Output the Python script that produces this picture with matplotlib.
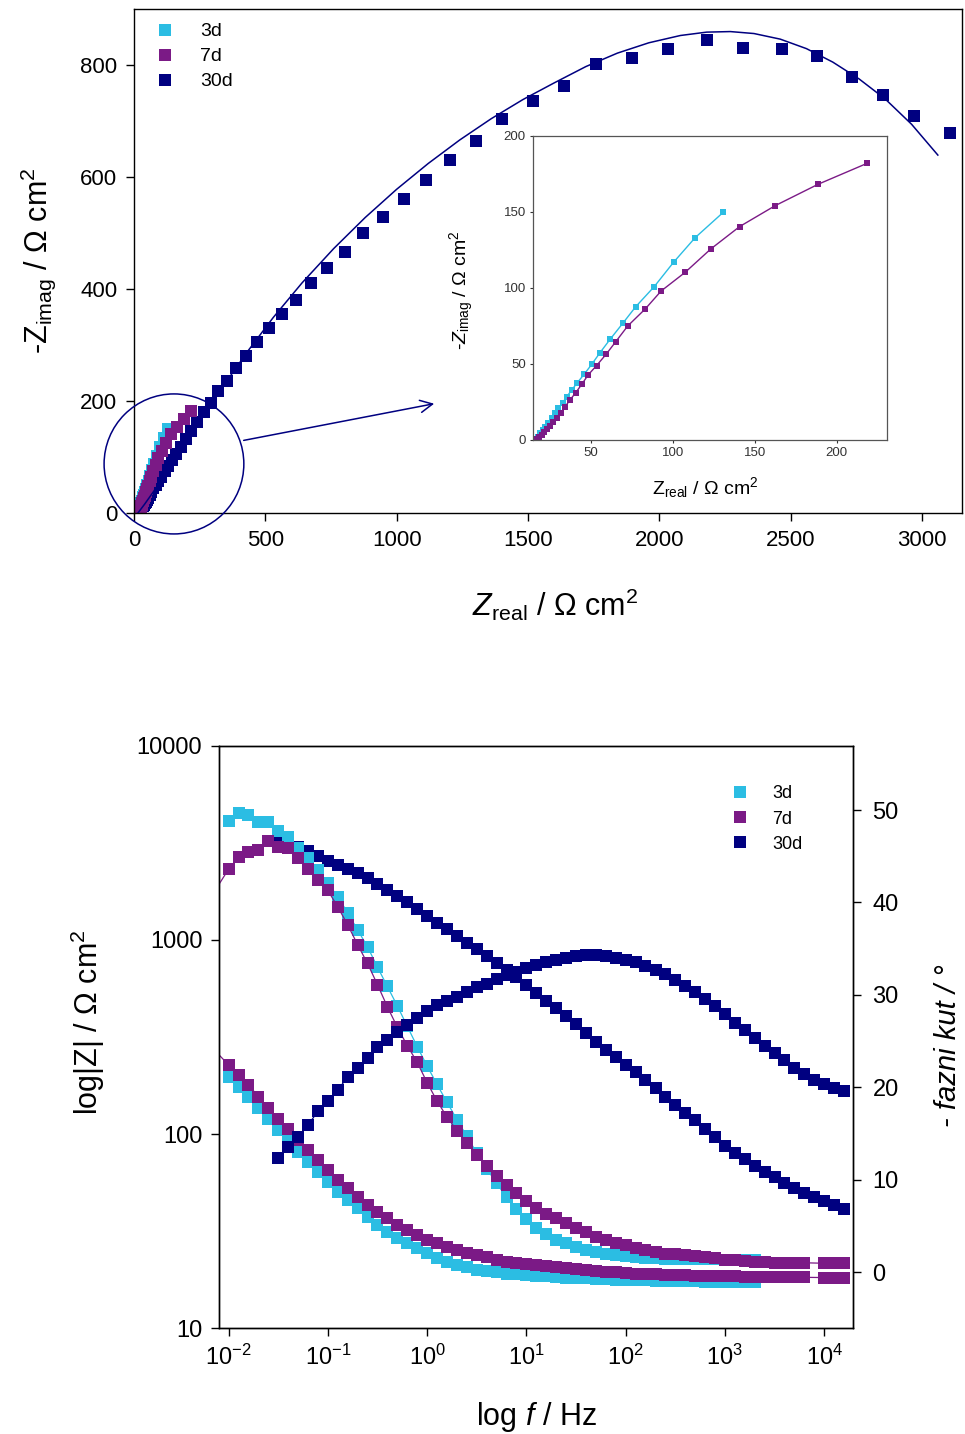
import numpy as np
import matplotlib
matplotlib.use('Agg')
import matplotlib.pyplot as plt
from matplotlib.patches import Ellipse
from matplotlib.lines import Line2D
from matplotlib.ticker import NullLocator, FixedLocator, FixedFormatter

plt.rcParams['font.family'] = ['Liberation Sans', 'DejaVu Sans']
plt.rcParams['mathtext.fontset'] = 'custom'
plt.rcParams['mathtext.rm'] = 'Liberation Sans'
plt.rcParams['mathtext.it'] = 'Liberation Sans:italic'
plt.rcParams['mathtext.bf'] = 'Liberation Sans:bold'

c3 = '#2bbde3'
c7 = '#7b1a86'
c30 = '#000080'
labels = ['3d', '7d', '30d']

# ---- Nyquist data (Zreal, -Zimag), Ohm cm2 ----
zr3 = [16.3, 17.4, 18.8, 20.4, 22.1, 23.9, 25.9, 28.0, 30.0, 32.7, 35.1, 38.2,
       41.6, 45.9, 50.4, 55.5, 61.6, 69.4, 77.3, 88.6, 100.4, 113.6, 130.8]
zi3 = [0.4, 2.2, 4.4, 6.6, 8.8, 11.4, 14.3, 17.5, 20.8, 24.6, 28.5, 32.9,
       37.7, 43.4, 49.8, 57.5, 66.2, 76.8, 87.7, 100.9, 116.9, 133.1, 149.8]

zr7 = [17.2, 18.4, 19.8, 21.4, 23.3, 24.9, 26.9, 29.0, 31.4, 34.1, 37.1, 40.6, 44.3,
       48.2, 53.3, 59.2, 65.1, 72.4, 83.1, 92.8, 107.5, 123.2, 140.8, 162.6, 188.7, 218.7]
zi7 = [0.7, 1.8, 3.3, 5.0, 7.0, 9.2, 11.6, 14.7, 18.0, 21.9, 26.3, 31.1, 36.6,
       42.8, 48.9, 56.4, 64.7, 75.0, 86.2, 98.0, 110.3, 125.7, 140.4, 154.2, 168.2, 182.0]

zr30 = [36, 38, 41, 44, 48, 53, 59, 66, 74, 83, 93, 104, 116, 130, 145, 161, 178, 197,
        217, 240, 266, 293, 321, 352, 388, 426, 468, 513, 563, 617, 673, 736, 802, 873,
        949, 1027, 1113, 1202, 1301, 1402, 1518, 1635, 1758, 1895, 2031, 2180, 2319,
        2465, 2601, 2732, 2852, 2969, 3106]
zi30 = [13, 15, 17, 20, 23, 27, 32, 38, 44, 50, 57, 65, 74, 84, 95, 106, 118, 132,
        147, 163, 180, 197, 217, 236, 258, 280, 305, 330, 356, 381, 410, 438, 466, 499,
        528, 560, 595, 630, 664, 704, 735, 763, 802, 812, 828, 845, 831,
        829, 816, 778, 746, 709, 678]

# fitted curve for 30d
fit_zr = [15, 40, 80, 130, 190, 260, 340, 430, 530, 640, 760, 880, 1000, 1120, 1240,
          1360, 1480, 1600, 1720, 1840, 1960, 2080, 2180, 2270, 2360, 2460, 2560, 2660,
          2760, 2860, 2960, 3060]
fit_zi = [0, 15.5, 42, 77, 120, 170.5, 226.5, 287, 349, 411, 472, 527.5, 578, 624, 666,
          704, 738, 768, 797, 821, 839.5, 852.5, 858.5, 859.5, 856, 846, 829, 805,
          775, 739, 694, 639]

# ---- Bode data ----
freq = [0.00794, 0.01, 0.0126, 0.0158, 0.02, 0.0251, 0.0316, 0.0398, 0.0501, 0.0631,
        0.0794, 0.1, 0.126, 0.158, 0.2, 0.251, 0.316, 0.398, 0.501, 0.631,
        0.794, 1.0, 1.26, 1.58, 2.0, 2.51, 3.16, 3.98, 5.01, 6.31,
        7.94, 10.0, 12.6, 15.8, 20.0, 25.1, 31.6, 39.8, 50.1, 63.1,
        79.4, 100, 126, 158, 200, 251, 316, 398, 501, 631,
        794, 1000, 1259, 1585, 1995, 2512, 3162, 3981, 5012, 6310,
        7943, 10000, 12589, 15849]

N = None
modz3 = [N, 197, 175, 155, 136, 119, 105, 92, 81, 72,
         64, 56.8, 50.5, 45.7, 41.4, 37.5, 34.0, 31.3, 29.0, 27.4,
         25.8, 24.3, 22.9, 22.0, 21.1, 20.6, 20.0, 19.7, 19.4, 19.1,
         18.9, 18.75, 18.6, 18.45, 18.3, 18.2, 18.1, 18.0, 17.9, 17.8,
         17.75, 17.7, 17.65, 17.6, 17.55, 17.5, 17.45, 17.4, 17.4, 17.35,
         17.35, 17.3, 17.3, 17.3, 17.3, N, N, N, N, N,
         N, N, N, N]
phase3 = [N, 48.8, 49.7, 49.5, 48.7, 48.7, 47.7, 47.1, 45.9, 44.8,
          43.5, 42.1, 40.6, 38.9, 37.0, 35.2, 33.0, 30.9, 28.8, 26.6,
          24.4, 22.3, 20.3, 18.4, 16.5, 14.7, 12.9, 11.2, 9.6, 8.1,
          6.8, 5.7, 4.8, 4.1, 3.5, 3.1, 2.7, 2.4, 2.2, 2.0,
          1.8, 1.7, 1.6, 1.55, 1.5, 1.45, 1.45, 1.4, 1.4, 1.4,
          1.4, 1.35, 1.35, 1.35, 1.35, N, N, N, N, N,
          N, N, N, N]

modz7 = [257, 227, 201, 179, 156, 136, 120, 106, 93, 83,
         73.5, 65.2, 57.9, 52.5, 47.5, 43.1, 39.7, 36.7, 34.0, 32.0,
         30.1, 28.4, 27.4, 26.2, 25.2, 24.4, 23.7, 23.1, 22.5, 22.0,
         21.7, 21.4, 21.1, 20.8, 20.6, 20.3, 20.1, 19.9, 19.7, 19.5,
         19.4, 19.2, 19.1, 19.0, 18.9, 18.85, 18.8, 18.7, 18.65, 18.6,
         18.55, 18.5, 18.45, 18.4, 18.4, 18.35, 18.3, 18.3, 18.25, 18.25,
         N, 18.2, 18.2, 18.2]
phase7 = [41.9, 43.6, 44.9, 45.5, 45.7, 46.6, 46.0, 45.9, 44.8, 43.6,
          42.4, 41.3, 39.5, 37.6, 35.4, 33.4, 31.1, 28.7, 26.5, 24.5,
          22.7, 20.5, 18.5, 16.8, 15.3, 14.0, 12.7, 11.5, 10.4, 9.4,
          8.5, 7.7, 6.9, 6.3, 5.8, 5.3, 4.8, 4.3, 3.8, 3.5,
          3.1, 2.9, 2.6, 2.4, 2.2, 2.0, 1.9, 1.8, 1.7, 1.6,
          1.5, 1.35, 1.25, 1.15, 1.1, 1.05, 1.0, 1.0, 1.0, 1.0,
          N, 0.95, 0.95, 0.95]

modz30 = [N, N, N, N, N, N, 3270, 3162, 3013, 2877,
          2710, 2553, 2449, 2323, 2203, 2089, 1945, 1820, 1694, 1570,
          1445, 1330, 1230, 1140, 1050, 966, 899, 828, 760, 700,
          644, 586, 533, 485, 444, 404, 369, 332, 298, 271,
          249, 227, 209, 190, 172, 155, 141, 129, 118, 106,
          96, 86.7, 79.8, 74.0, 68.4, 63.7, 59.7, 55.8, 52.7, 49.7,
          47.1, 44.9, 43.1, 41.3]
phase30 = [N, N, N, N, N, N, 12.3, 13.5, 14.6, 15.9,
           17.4, 18.5, 19.7, 21.1, 22.1, 23.2, 24.3, 25.1, 26.0, 26.7,
           27.5, 28.2, 28.9, 29.3, 29.8, 30.3, 30.8, 31.2, 31.7, 32.1,
           32.5, 32.9, 33.2, 33.6, 33.8, 34.0, 34.2, 34.3, 34.3, 34.2,
           34.0, 33.8, 33.5, 33.1, 32.7, 32.2, 31.6, 31.0, 30.3, 29.6,
           28.8, 27.9, 27.0, 26.2, 25.3, 24.5, 23.7, 22.9, 22.1, 21.4,
           20.8, 20.3, 19.9, 19.6]

fig = plt.figure(figsize=(9.65, 14.34), dpi=100)

# ================= Nyquist =================
ax1 = fig.add_axes([0.1389, 0.6423, 0.8580, 0.3515])
ax1.plot(fit_zr, fit_zi, color=c30, lw=1.1, zorder=3)
ax1.plot(zr30, zi30, 's', color=c30, ms=9, mew=0, zorder=2)
ax1.plot(zr3, zi3, 's', color=c3, ms=9, mew=0, zorder=2)
ax1.plot(zr7, zi7, 's', color=c7, ms=9, mew=0, zorder=2)
ax1.set_xlim(0, 3152)
ax1.set_ylim(0, 900)
ax1.set_xticks([0, 500, 1000, 1500, 2000, 2500, 3000])
ax1.set_yticks([0, 200, 400, 600, 800])
ax1.tick_params(direction='out', length=6, width=1, labelsize=16, pad=6)
for s in ax1.spines.values():
    s.set_linewidth(1)
ax1.set_xlabel('$Z_{\\mathrm{real}}$ / Ω cm$^{2}$', fontsize=22, va='center')
ax1.xaxis.set_label_coords(0.508, -0.183)
ax1.set_ylabel('-Z$_{\\mathrm{imag}}$ / Ω cm$^{2}$', fontsize=22, va='center')
ax1.yaxis.set_label_coords(-0.116, 0.5)

ell = Ellipse((152, 87.5), width=532, height=250, fill=False, edgecolor=c30,
              lw=1.1, clip_on=False, zorder=4)
ax1.add_patch(ell)
ax1.annotate('', xy=(1153, 196), xytext=(407, 128.6),
             arrowprops=dict(arrowstyle='->', color=c30, lw=1.1, mutation_scale=22))

h1 = [Line2D([], [], ls='', marker='s', ms=8, mew=0, color=c) for c in (c3, c7, c30)]
ax1.legend(h1, labels, loc='upper left', bbox_to_anchor=(0.005, 1.007), frameon=False,
           fontsize=14, handlelength=1.0, handletextpad=1.3, labelspacing=0.38)

# inset
axi = fig.add_axes([0.552, 0.6932, 0.3668, 0.2120])
axi.plot(zr3, zi3, '-s', color=c3, ms=4.5, mew=0, lw=1)
axi.plot(zr7, zi7, '-s', color=c7, ms=4.5, mew=0, lw=1)
axi.set_xlim(14.3, 230.6)
axi.set_ylim(0, 200)
axi.set_xticks([50, 100, 150, 200])
axi.set_yticks([0, 50, 100, 150, 200])
axi.tick_params(direction='out', length=2, width=0.8, labelsize=9.5, pad=3,
                colors='#333333')
for s in axi.spines.values():
    s.set_linewidth(0.9)
    s.set_color('#555555')
axi.set_xlabel('Z$_{\\mathrm{real}}$ / Ω cm$^{2}$', fontsize=14, va='center')
axi.xaxis.set_label_coords(0.487, -0.158)
axi.set_ylabel('-$Z_{\\mathrm{imag}}$ / Ω cm$^{2}$', fontsize=14, va='center')
axi.yaxis.set_label_coords(-0.2, 0.493)

# ================= Bode =================
f = np.array(freq, dtype=float)


def bode(ax, vals, color, skip_first=False):
    v = np.array(vals, dtype=float)
    m = ~np.isnan(v)
    ax.plot(f[m], v[m], '-', color=color, lw=0.9)
    start = 1 if skip_first else 0
    ax.plot(f[m][start:], v[m][start:], 's', color=color, ms=8.3, mew=0)


ax2 = fig.add_axes([0.2269, 0.0739, 0.6570, 0.4059])
ax2.set_xscale('log')
ax2.set_yscale('log')
bode(ax2, modz30, c30)
bode(ax2, modz3, c3)
bode(ax2, modz7, c7, skip_first=True)
ax2.set_xlim(10 ** -2.097, 10 ** 4.29)
ax2.set_ylim(10, 10000)
ax2.yaxis.set_major_locator(FixedLocator([10, 100, 1000, 10000]))
ax2.yaxis.set_major_formatter(FixedFormatter(['10', '100', '1000', '10000']))
ax2.yaxis.set_minor_locator(NullLocator())
ax2.xaxis.set_major_locator(FixedLocator([1e-2, 1e-1, 1, 10, 100, 1000, 1e4]))
ax2.xaxis.set_major_formatter(FixedFormatter(
    ['$10^{-2}$', '$10^{-1}$', '$10^{0}$', '$10^{1}$', '$10^{2}$', '$10^{3}$', '$10^{4}$']))
ax2.xaxis.set_minor_locator(NullLocator())
ax2.tick_params(direction='out', length=6, width=1, labelsize=17, pad=6)

ax2b = ax2.twinx()
bode(ax2b, phase3, c3)
bode(ax2b, phase7, c7, skip_first=True)
bode(ax2b, phase30, c30)
ax2b.set_ylim(-6.06, 56.93)
ax2b.set_yticks([0, 10, 20, 30, 40, 50])
ax2b.yaxis.set_minor_locator(NullLocator())
ax2b.tick_params(direction='out', length=6, width=1, labelsize=17, pad=8)
for a in (ax2, ax2b):
    for s in a.spines.values():
        s.set_linewidth(1)

ax2.set_xlabel('log $f$ / Hz', fontsize=22, va='center')
ax2.xaxis.set_label_coords(0.50, -0.153)
ax2.set_ylabel('log|Z| / Ω cm$^{2}$', fontsize=22, va='center')
ax2.yaxis.set_label_coords(-0.207, 0.526)
ax2b.set_ylabel('- fazni kut / °', fontsize=21, style='italic', va='center',
                rotation=90)
ax2b.yaxis.set_label_coords(1.15, 0.486)

h2 = [Line2D([], [], ls='', marker='s', ms=8, mew=0, color=c) for c in (c3, c7, c30)]
ax2b.legend(h2, labels, loc='upper right', bbox_to_anchor=(0.946, 0.96), frameon=False,
            fontsize=13, handlelength=1.0, handletextpad=1.3, labelspacing=0.45)

fig.savefig('out.png', dpi=100)
